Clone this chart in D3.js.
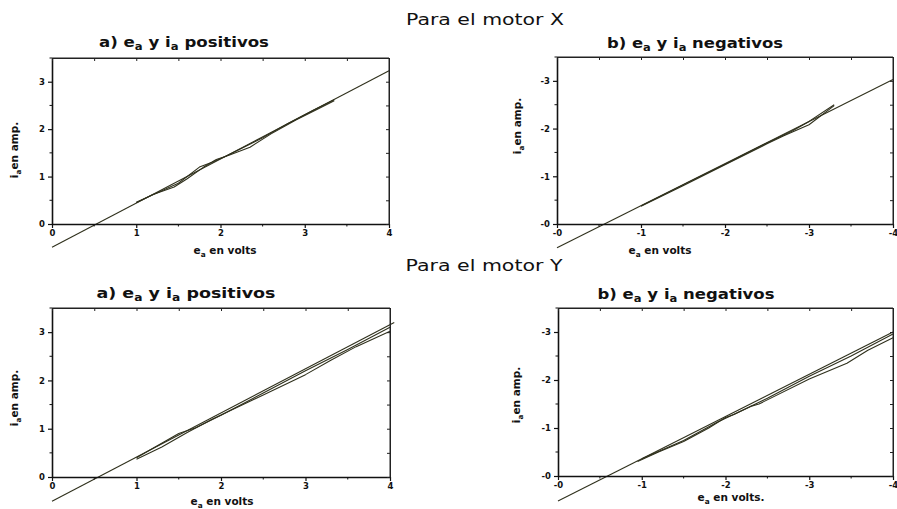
<!DOCTYPE html>
<html>
<head>
<meta charset="utf-8">
<script src="https://cdn.jsdelivr.net/npm/d3@7"></script>
<style>
  html, body { margin: 0; padding: 0; background: #fff; }
  svg { display: block; }
  .tick-label { font-family: "DejaVu Sans", sans-serif; font-weight: bold; font-size: 8.5px; fill: #111; }
  .ptitle { font-family: "DejaVu Sans", sans-serif; font-weight: bold; font-size: 14px; fill: #111; }
  .alabel { font-family: "DejaVu Sans", sans-serif; font-weight: bold; font-size: 10.5px; fill: #111; }
  .mtitle { font-family: "DejaVu Sans", sans-serif; font-size: 15px; fill: #111; }
</style>
</head>
<body>
<svg id="chart" width="897" height="509"></svg>
<script>
// ---- Motor X, positive quadrant ----
const xPosFitE = [0, 4];
const xPosFitI = [-0.49, 3.23];
const xPosUpE = [1.0, 1.2, 1.45, 1.6, 1.8, 1.95, 2.1, 2.35, 2.6, 2.9, 3.15, 3.35];
const xPosUpI = [0.45, 0.62, 0.78, 0.95, 1.2, 1.36, 1.45, 1.62, 1.9, 2.2, 2.42, 2.6];
const xPosDownE = [3.35, 3.1, 2.8, 2.5, 2.3, 2.05, 1.9, 1.75, 1.5, 1.25, 1.0];
const xPosDownI = [2.62, 2.4, 2.12, 1.82, 1.64, 1.42, 1.3, 1.2, 0.86, 0.66, 0.46];

// ---- Motor X, negative quadrant ----
const xNegFitE = [0, -4];
const xNegFitI = [0.5, -3.03];
const xNegUpE = [-1.0, -1.5, -2.0, -2.5, -2.8, -3.0, -3.3];
const xNegUpI = [-0.38, -0.82, -1.25, -1.7, -1.95, -2.15, -2.5];
const xNegDownE = [-3.3, -3.0, -2.7, -2.5, -2.0, -1.5, -1.0];
const xNegDownI = [-2.48, -2.08, -1.85, -1.68, -1.24, -0.8, -0.37];

// ---- Motor Y, positive quadrant ----
const yPosFitE = [0, 4.05];
const yPosFitI = [-0.5, 3.2];
const yPosUpE = [1.0, 1.2, 1.5, 1.7, 2.0, 2.5, 3.0, 3.5, 4.0];
const yPosUpI = [0.4, 0.6, 0.9, 1.02, 1.28, 1.74, 2.2, 2.64, 3.1];
const yPosDownE = [4.0, 3.6, 3.3, 3.0, 2.5, 1.9, 1.6, 1.3, 1.0];
const yPosDownI = [3.02, 2.7, 2.42, 2.12, 1.7, 1.2, 0.92, 0.62, 0.37];

// ---- Motor Y, negative quadrant ----
const yNegFitE = [0, -4];
const yNegFitI = [0.52, -3.0];
const yNegUpE = [-0.95, -1.2, -1.5, -1.8, -2.0, -2.1, -2.5, -3.0, -3.5, -4.0];
const yNegUpI = [-0.3, -0.5, -0.72, -1.0, -1.22, -1.28, -1.62, -2.08, -2.5, -2.96];
const yNegDownE = [-4.0, -3.7, -3.45, -3.0, -2.4, -2.3, -1.9, -1.5, -1.0];
const yNegDownI = [-2.88, -2.62, -2.35, -2.02, -1.5, -1.45, -1.12, -0.74, -0.36];

// ---- tick values ----
const posMajorTicks = [0, 1, 2, 3, 4];
const negMajorTicks = [0, -1, -2, -3, -4];
const posIMajorTicks = [0, 1, 2, 3];
const negIMajorTicks = [0, -1, -2, -3];

const svg = d3.select("#chart");
const ink = "#2f301c";

function zip(a, b) { return a.map((v, i) => [v, b[i]]); }

function subText(sel, parts) {
  // parts: [text, isSub]
  parts.forEach(([t, sub], i) => {
    const ts = sel.append("tspan").text(t);
    if (sub) ts.attr("font-size", "0.7em").attr("dy", "0.35em");
    else if (i > 0) ts.attr("dy", "-0.245em");
  });
}

function drawPanel(cfg) {
  const g = svg.append("g");
  const x = d3.scaleLinear().domain(cfg.xDomain).range([cfg.left, cfg.right]);
  const y = d3.scaleLinear().domain(cfg.yDomain).range([cfg.bottom, cfg.top]);
  const fmt = cfg.neg ? (d => "-" + Math.abs(d)) : (d => String(d));
  const step = cfg.neg ? -0.5 : 0.5;
  const xMinor = d3.range(0, 9).map(i => i * step).filter(v => !cfg.xMajor.includes(v));
  const yMinor = d3.range(0, 8).map(i => i * step).filter(v => !cfg.yMajor.includes(v) && Math.abs(v) <= 3.5);

  // fitted line and the two measured traces
  const line = d3.line().x(d => x(d[0])).y(d => y(d[1]));
  [zip(cfg.fitE, cfg.fitI), zip(cfg.upE, cfg.upI), zip(cfg.downE, cfg.downI)].forEach(pts => {
    g.append("path").datum(pts).attr("d", line)
      .attr("fill", "none").attr("stroke", ink).attr("stroke-width", 1.1)
      .attr("stroke-linejoin", "round");
  });

  // bottom & left axes with outward ticks
  const bottom = d3.axisBottom(x).tickValues(cfg.xMajor).tickFormat(fmt).tickSizeInner(4).tickSizeOuter(0).tickPadding(2);
  const bAx = g.append("g").attr("transform", `translate(0,${cfg.bottom})`).call(bottom);
  const left = d3.axisLeft(y).tickValues(cfg.yMajor).tickFormat(fmt).tickSizeInner(4).tickSizeOuter(0).tickPadding(3);
  const lAx = g.append("g").attr("transform", `translate(${cfg.left},0)`).call(left);
  [bAx, lAx].forEach(a => {
    a.select(".domain").attr("stroke", "#111").attr("stroke-width", 1.6);
    a.selectAll(".tick line").attr("stroke", "#111").attr("stroke-width", 1.2);
    a.selectAll(".tick text").attr("class", "tick-label").attr("fill", null);
    a.attr("font-family", null).attr("font-size", null);
  });
  // minor ticks on bottom & left
  g.append("g").selectAll("line").data(xMinor).join("line")
    .attr("x1", d => x(d)).attr("x2", d => x(d))
    .attr("y1", cfg.bottom).attr("y2", cfg.bottom + 2.5)
    .attr("stroke", "#111").attr("stroke-width", 1);
  g.append("g").selectAll("line").data(yMinor).join("line")
    .attr("x1", cfg.left - 2.5).attr("x2", cfg.left)
    .attr("y1", d => y(d)).attr("y2", d => y(d))
    .attr("stroke", "#111").attr("stroke-width", 1);

  // top & right borders with inward ticks
  const top = d3.axisBottom(x).tickValues(cfg.xMajor.concat(xMinor)).tickFormat("").tickSizeInner(3).tickSizeOuter(0);
  const tAx = g.append("g").attr("transform", `translate(0,${cfg.top})`).call(top);
  const right = d3.axisLeft(y).tickValues(cfg.yMajor.concat(yMinor)).tickFormat("").tickSizeInner(3).tickSizeOuter(0);
  const rAx = g.append("g").attr("transform", `translate(${cfg.right},0)`).call(right);
  [tAx, rAx].forEach(a => {
    a.select(".domain").attr("stroke", "#222").attr("stroke-width", 1);
    a.selectAll(".tick line").attr("stroke", "#222").attr("stroke-width", 1);
  });
  g.append("line").attr("x1", cfg.left).attr("x2", cfg.right).attr("y1", cfg.top).attr("y2", cfg.top)
    .attr("stroke", "#222").attr("stroke-width", 1);
  g.append("line").attr("x1", cfg.right).attr("x2", cfg.right).attr("y1", cfg.top).attr("y2", cfg.bottom)
    .attr("stroke", "#222").attr("stroke-width", 1);

  // panel title
  const t = g.append("text").attr("class", "ptitle").attr("x", cfg.titleX).attr("y", cfg.titleY)
    .attr("text-anchor", "middle").attr("textLength", cfg.titleLen).attr("lengthAdjust", "spacingAndGlyphs");
  subText(t, [[cfg.titlePrefix + " e", false], ["a", true], [" y i", false], ["a", true], [" " + cfg.titleWord, false]]);

  // x label
  const xl = g.append("text").attr("class", "alabel").attr("x", cfg.xlX).attr("y", cfg.xlY).attr("text-anchor", "middle");
  subText(xl, [["e", false], ["a", true], [" en volts" + cfg.xlSuffix, false]]);

  // y label
  const yl = g.append("text").attr("class", "alabel").attr("text-anchor", "middle")
    .attr("transform", `translate(${cfg.ylX},${cfg.ylY}) rotate(-90)`);
  subText(yl, [["i", false], ["a", true], ["en amp.", false]]);
}

// headings
svg.append("text").attr("class", "mtitle").attr("x", 485).attr("y", 25).attr("text-anchor", "middle")
  .attr("textLength", 158).attr("lengthAdjust", "spacingAndGlyphs").text("Para el motor X");
svg.append("text").attr("class", "mtitle").attr("x", 484).attr("y", 271).attr("text-anchor", "middle")
  .attr("textLength", 157).attr("lengthAdjust", "spacingAndGlyphs").text("Para el motor Y");

drawPanel({ left: 52, right: 389, top: 58, bottom: 224, xDomain: [0, 4], yDomain: [0, 3.5], neg: false,
  xMajor: posMajorTicks, yMajor: posIMajorTicks,
  fitE: xPosFitE, fitI: xPosFitI, upE: xPosUpE, upI: xPosUpI, downE: xPosDownE, downI: xPosDownI,
  titlePrefix: "a)", titleWord: "positivos", titleX: 184, titleY: 47, titleLen: 170,
  xlX: 225, xlY: 254, xlSuffix: "", ylX: 18, ylY: 150 });

drawPanel({ left: 557, right: 893, top: 57, bottom: 224, xDomain: [0, -4], yDomain: [0, -3.5], neg: true,
  xMajor: negMajorTicks, yMajor: negIMajorTicks,
  fitE: xNegFitE, fitI: xNegFitI, upE: xNegUpE, upI: xNegUpI, downE: xNegDownE, downI: xNegDownI,
  titlePrefix: "b)", titleWord: "negativos", titleX: 695, titleY: 48, titleLen: 176,
  xlX: 660, xlY: 254, xlSuffix: "", ylX: 521, ylY: 126 });

drawPanel({ left: 52, right: 390, top: 308, bottom: 477, xDomain: [0, 4], yDomain: [0, 3.5], neg: false,
  xMajor: posMajorTicks, yMajor: posIMajorTicks,
  fitE: yPosFitE, fitI: yPosFitI, upE: yPosUpE, upI: yPosUpI, downE: yPosDownE, downI: yPosDownI,
  titlePrefix: "a)", titleWord: "positivos", titleX: 186, titleY: 298, titleLen: 179,
  xlX: 222, xlY: 505, xlSuffix: "", ylX: 18, ylY: 398 });

drawPanel({ left: 558, right: 893, top: 308, bottom: 476, xDomain: [0, -4], yDomain: [0, -3.5], neg: true,
  xMajor: negMajorTicks, yMajor: negIMajorTicks,
  fitE: yNegFitE, fitI: yNegFitI, upE: yNegUpE, upI: yNegUpI, downE: yNegDownE, downI: yNegDownI,
  titlePrefix: "b)", titleWord: "negativos", titleX: 686, titleY: 299, titleLen: 177,
  xlX: 731, xlY: 501, xlSuffix: ".", ylX: 520, ylY: 395 });
</script>
</body>
</html>
